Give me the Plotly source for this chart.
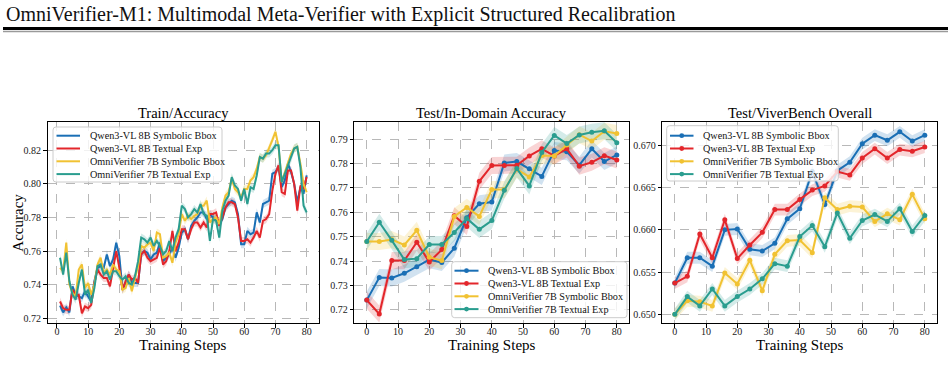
import plotly.graph_objects as go

# ---------------- data ----------------
series_names = ["Qwen3-VL 8B Symbolic Bbox", "Qwen3-VL 8B Textual Exp",
                "OmniVerifier 7B Symbolic Bbox", "OmniVerifier 7B Textual Exp"]
colors = ["#1a6fb5", "#e3262b", "#f1c232", "#2a9d8f"]

train_steps = list(range(1, 81))
train_qwen_sym = [0.7275, 0.7235, 0.7265, 0.7235, 0.739, 0.734, 0.733, 0.732, 0.736, 0.733,
                  0.730, 0.742, 0.750, 0.751, 0.750, 0.758, 0.751, 0.755, 0.765, 0.757,
                  0.737, 0.741, 0.746, 0.741, 0.741, 0.741, 0.758, 0.760, 0.759, 0.755,
                  0.758, 0.759, 0.765, 0.754, 0.756, 0.758, 0.762, 0.756, 0.762, 0.771,
                  0.773, 0.767, 0.775, 0.778, 0.780, 0.783, 0.783, 0.779, 0.782, 0.780,
                  0.779, 0.776, 0.779, 0.786, 0.788, 0.790, 0.789, 0.782, 0.764, 0.764,
                  0.772, 0.770, 0.771, 0.783, 0.777, 0.788, 0.789, 0.790, 0.806, 0.807,
                  0.810, 0.798, 0.802, 0.812, 0.807, 0.800, 0.789, 0.798, 0.794, 0.805]
train_qwen_txt = [0.730, 0.726, 0.725, 0.725, 0.737, 0.734, 0.734, 0.723, 0.727, 0.726,
                  0.728, 0.741, 0.749, 0.746, 0.744, 0.744, 0.739, 0.750, 0.760, 0.750,
                  0.737, 0.742, 0.746, 0.743, 0.744, 0.741, 0.758, 0.760, 0.756, 0.754,
                  0.755, 0.756, 0.762, 0.752, 0.754, 0.760, 0.772, 0.760, 0.765, 0.773,
                  0.773, 0.767, 0.773, 0.777, 0.777, 0.774, 0.777, 0.774, 0.782, 0.782,
                  0.783, 0.775, 0.780, 0.786, 0.789, 0.789, 0.788, 0.780, 0.766, 0.766,
                  0.767, 0.765, 0.768, 0.772, 0.768, 0.778, 0.779, 0.782, 0.796, 0.806,
                  0.811, 0.795, 0.794, 0.808, 0.808, 0.800, 0.784, 0.799, 0.797, 0.804]
train_omni_sym = [0.750, 0.748, 0.765, 0.740, 0.735, 0.733, 0.749, 0.752, 0.738, 0.741,
                  0.734, 0.740, 0.752, 0.756, 0.747, 0.749, 0.746, 0.752, 0.749, 0.748,
                  0.737, 0.738, 0.744, 0.736, 0.744, 0.751, 0.763, 0.762, 0.764, 0.765,
                  0.760, 0.771, 0.770, 0.756, 0.757, 0.759, 0.753, 0.765, 0.770, 0.782,
                  0.778, 0.781, 0.779, 0.781, 0.782, 0.787, 0.787, 0.790, 0.777, 0.779,
                  0.780, 0.776, 0.786, 0.793, 0.795, 0.803, 0.797, 0.795, 0.792, 0.797,
                  0.797, 0.802, 0.804, 0.809, 0.816, 0.815, 0.817, 0.821, 0.826, 0.831,
                  0.822, 0.801, 0.807, 0.812, 0.818, 0.821, 0.822, 0.812, 0.800, 0.795]
train_omni_txt = [0.756, 0.746, 0.759, 0.742, 0.734, 0.731, 0.741, 0.749, 0.734, 0.737,
                  0.729, 0.738, 0.751, 0.752, 0.746, 0.748, 0.743, 0.748, 0.748, 0.745,
                  0.743, 0.745, 0.741, 0.740, 0.745, 0.754, 0.768, 0.767, 0.765, 0.768,
                  0.763, 0.766, 0.763, 0.758, 0.760, 0.766, 0.760, 0.768, 0.773, 0.787,
                  0.785, 0.780, 0.782, 0.785, 0.783, 0.788, 0.782, 0.781, 0.766, 0.779,
                  0.778, 0.768, 0.784, 0.790, 0.793, 0.804, 0.799, 0.797, 0.790, 0.797,
                  0.788, 0.798, 0.797, 0.805, 0.816, 0.815, 0.818, 0.818, 0.820, 0.823,
                  0.823, 0.801, 0.806, 0.811, 0.815, 0.821, 0.822, 0.810, 0.787, 0.783]
train_band = 0.0024

test_steps = list(range(0, 81, 4))
indomain_qwen_sym = [0.7240, 0.7333, 0.7331, 0.7350, 0.7377, 0.7406, 0.7394, 0.7453, 0.7578, 0.7635,
                     0.7642, 0.7802, 0.7808, 0.7778, 0.7747, 0.7853, 0.7848, 0.7793, 0.7860, 0.7808, 0.7835]
indomain_qwen_txt = [0.7240, 0.7183, 0.7402, 0.7402, 0.7477, 0.7396, 0.7447, 0.7586, 0.7542, 0.7727,
                     0.7792, 0.7792, 0.7793, 0.7831, 0.7860, 0.7831, 0.7860, 0.7789, 0.7805, 0.7832, 0.7814]
indomain_omni_sym = [0.7480, 0.7480, 0.7488, 0.7466, 0.7526, 0.7416, 0.7402, 0.7583, 0.7620, 0.7583,
                     0.7693, 0.7693, 0.7776, 0.7745, 0.7833, 0.7831, 0.7876, 0.7918, 0.7892, 0.7932, 0.7923]
indomain_omni_txt = [0.7480, 0.7559, 0.7485, 0.7406, 0.7410, 0.7468, 0.7468, 0.7517, 0.7575, 0.7530,
                     0.7566, 0.7690, 0.7779, 0.7708, 0.7845, 0.7915, 0.7882, 0.7917, 0.7928, 0.7934, 0.7885]
indomain_band = 0.0035

viver_qwen_sym = [0.6537, 0.6567, 0.6567, 0.6557, 0.6600, 0.6601, 0.6577, 0.6575, 0.6584, 0.6613,
                  0.6625, 0.6669, 0.6630, 0.6670, 0.6680, 0.6702, 0.6712, 0.6706, 0.6716, 0.6705, 0.6712]
viver_qwen_txt = [0.6537, 0.6545, 0.6595, 0.6567, 0.6612, 0.6566, 0.6582, 0.6597, 0.6624, 0.6624,
                  0.6636, 0.6647, 0.6652, 0.6669, 0.6665, 0.6685, 0.6696, 0.6685, 0.6695, 0.6693, 0.6698]
viver_omni_sym = [0.6500, 0.6516, 0.6515, 0.6510, 0.6549, 0.6536, 0.6564, 0.6528, 0.6571, 0.6587,
                  0.6588, 0.6573, 0.6638, 0.6624, 0.6628, 0.6627, 0.6610, 0.6619, 0.6612, 0.6642, 0.6613]
viver_omni_txt = [0.6500, 0.6521, 0.6510, 0.6530, 0.6510, 0.6521, 0.6530, 0.6542, 0.6560, 0.6557,
                  0.6592, 0.6605, 0.6580, 0.6620, 0.6590, 0.6611, 0.6618, 0.6610, 0.6625, 0.6598, 0.6617]
viver_band = 0.0007

panel_titles = ["Train/Accuracy", "Test/In-Domain Accuracy", "Test/ViverBench Overall"]
x_title = "Training Steps"
y_title = "Accuracy"
header_text = "OmniVerifier-M1: Multimodal Meta-Verifier with Explicit Structured Recalibration"

# ---------------- figure ----------------
W, H = 948, 380
FONT = "Liberation Serif, Times New Roman, serif"


def rgba(hexc, a):
    h = hexc.lstrip("#")
    r, g, b = int(h[0:2], 16), int(h[2:4], 16), int(h[4:6], 16)
    return f"rgba({r},{g},{b},{a})"


def px(x):
    return x / W


def py(y):
    return 1 - y / H


fig = go.Figure()

panels = [
    (train_steps, [train_qwen_sym, train_qwen_txt, train_omni_sym, train_omni_txt], train_band, False),
    (test_steps, [indomain_qwen_sym, indomain_qwen_txt, indomain_omni_sym, indomain_omni_txt], indomain_band, True),
    (test_steps, [viver_qwen_sym, viver_qwen_txt, viver_omni_sym, viver_omni_txt], viver_band, True),
]

for pi, (xs, ys_list, band, markers) in enumerate(panels):
    xa = "x" if pi == 0 else f"x{pi + 1}"
    ya = "y" if pi == 0 else f"y{pi + 1}"
    for si, ys in enumerate(ys_list):
        upper = [v + band for v in ys]
        lower = [v - band for v in ys]
        fig.add_trace(go.Scatter(
            x=list(xs) + list(xs)[::-1], y=upper + lower[::-1],
            fill="toself", fillcolor=rgba(colors[si], 0.2), line=dict(width=0),
            mode="lines", hoverinfo="skip", showlegend=False, xaxis=xa, yaxis=ya))
    for si, ys in enumerate(ys_list):
        fig.add_trace(go.Scatter(
            x=xs, y=ys, name=series_names[si],
            mode="lines+markers" if markers else "lines",
            line=dict(color=colors[si], width=2),
            marker=dict(size=5, color=colors[si]),
            showlegend=False, xaxis=xa, yaxis=ya))

# axis geometry (pixels)
x_px = [(47.7, 319.0), (354.3, 629.3), (662.3, 937.3)]
y_top, y_bot = 122.0, 323.3
ydom = [py(y_bot), py(y_top)]

x_ranges = [[-2.95, 83.95], [-4, 84], [-4, 84]]
y_ranges = [[0.717, 0.8368], [0.7145, 0.797], [0.64894, 0.67276]]
y_ticks = [
    [0.72, 0.74, 0.76, 0.78, 0.80, 0.82],
    [0.72, 0.73, 0.74, 0.75, 0.76, 0.77, 0.78, 0.79],
    [0.650, 0.655, 0.660, 0.665, 0.670],
]
y_fmt = [".2f", ".2f", ".3f"]

common = dict(
    showline=True, linecolor="black", linewidth=1.2, mirror=True,
    ticks="outside", ticklen=3.5, tickwidth=0.9, tickcolor="black",
    showgrid=True, gridcolor="#b8b8b8", gridwidth=0.8, griddash="dash",
    zeroline=False, tickfont=dict(family=FONT, size=10, color="#222"),
)

layout = {}
for i in range(3):
    sx = "" if i == 0 else str(i + 1)
    layout[f"xaxis{sx}"] = dict(
        domain=[px(x_px[i][0]), px(x_px[i][1])], range=x_ranges[i],
        tickvals=list(range(0, 81, 10)), anchor=f"y{sx}", ticklabelstandoff=-5, **common)
    layout[f"yaxis{sx}"] = dict(
        domain=ydom, range=y_ranges[i], tickvals=y_ticks[i], tickformat=y_fmt[i],
        anchor=f"x{sx}", **common)

annotations = []
shapes = []
for i in range(3):
    cx = px((x_px[i][0] + x_px[i][1]) / 2)
    annotations.append(dict(
        text=panel_titles[i], x=cx, y=py(113), xref="paper", yref="paper",
        xanchor="center", yanchor="middle", showarrow=False,
        font=dict(family=FONT, size=14.5, color="black")))
    annotations.append(dict(
        text=x_title, x=cx, y=py(345), xref="paper", yref="paper",
        xanchor="center", yanchor="middle", showarrow=False,
        font=dict(family=FONT, size=15, color="black")))
annotations.append(dict(
    text=y_title, x=px(18), y=py((y_top + y_bot) / 2), xref="paper", yref="paper",
    xanchor="center", yanchor="middle", showarrow=False, textangle=-90,
    font=dict(family=FONT, size=15, color="black")))
annotations.append(dict(
    text=header_text, x=px(4), y=py(14), xref="paper", yref="paper",
    xanchor="left", yanchor="middle", showarrow=False,
    font=dict(family=FONT, size=20, color="#111")))

shapes += [
    dict(type="line", xref="paper", yref="paper", x0=px(3), x1=1, y0=py(28.5), y1=py(28.5),
         line=dict(color="black", width=3)),
    dict(type="line", xref="paper", yref="paper", x0=px(3), x1=1, y0=py(31.5), y1=py(31.5),
         line=dict(color="#9a9a9a", width=1.5)),
]


# ---------------- hand-built compact legends (matplotlib style) ----------------
def rounded_rect(x0, y0, x1, y1, r=3):
    def p(x, y):
        return f"{px(x):.5f},{py(y):.5f}"
    return (f"M {p(x0 + r, y0)} L {p(x1 - r, y0)} Q {p(x1, y0)} {p(x1, y0 + r)} "
            f"L {p(x1, y1 - r)} Q {p(x1, y1)} {p(x1 - r, y1)} L {p(x0 + r, y1)} "
            f"Q {p(x0, y1)} {p(x0, y1 - r)} L {p(x0, y0 + r)} Q {p(x0, y0)} {p(x0 + r, y0)} Z")


legend_specs = [
    # box x0, y0, x1, y1, line x0, line x1, first row y, markers?
    (53.0, 127.0, 222.0, 182.0, 56.5, 80.0, 135.7, False),
    (451.7, 261.7, 627.0, 317.7, 454.5, 478.5, 270.7, True),
    (666.7, 125.7, 838.3, 181.0, 670.0, 693.5, 135.7, True),
]
row_gap = 12.8
for (bx0, by0, bx1, by1, lx0, lx1, ry0, mk) in legend_specs:
    shapes.append(dict(type="path", xref="paper", yref="paper", path=rounded_rect(bx0, by0, bx1, by1),
                       fillcolor="rgba(255,255,255,0.8)", line=dict(color="#cccccc", width=1), layer="above"))
    for si in range(4):
        yy = ry0 + si * row_gap
        shapes.append(dict(type="line", xref="paper", yref="paper", x0=px(lx0), x1=px(lx1),
                           y0=py(yy), y1=py(yy), line=dict(color=colors[si], width=2), layer="above"))
        if mk:
            cxm = (lx0 + lx1) / 2
            shapes.append(dict(type="circle", xref="paper", yref="paper",
                               x0=px(cxm - 2.4), x1=px(cxm + 2.4), y0=py(yy + 2.4), y1=py(yy - 2.4),
                               fillcolor=colors[si], line=dict(width=0), layer="above"))
        annotations.append(dict(
            text=series_names[si], x=px(lx1 + 7.5), y=py(yy), xref="paper", yref="paper",
            xanchor="left", yanchor="middle", showarrow=False,
            font=dict(family=FONT, size=10.2, color="#111")))

fig.update_layout(
    width=W, height=H, margin=dict(l=0, r=0, t=0, b=0),
    paper_bgcolor="white", plot_bgcolor="white",
    showlegend=False,
    annotations=annotations, shapes=shapes,
    **layout,
)

fig.write_html("out.html")
